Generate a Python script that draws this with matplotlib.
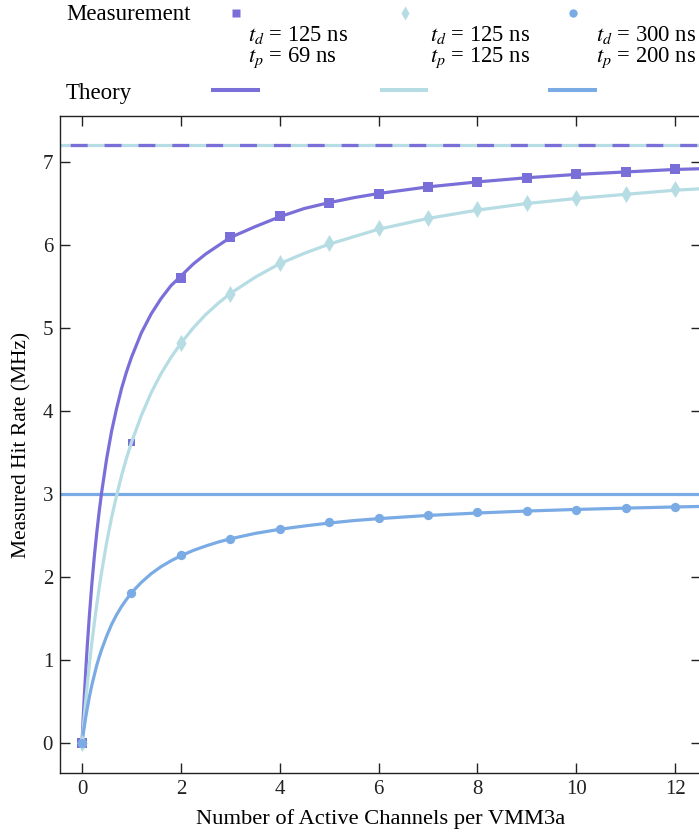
import matplotlib
matplotlib.use("Agg")
import matplotlib.pyplot as plt
from matplotlib.lines import Line2D

plt.rcParams['font.family'] = ['Liberation Serif', 'DejaVu Serif']
plt.rcParams['mathtext.fontset'] = 'stix'

# ---- data ----
C_PURPLE = '#7a6fd8'
C_LIGHT = '#b6dce4'
C_BLUE = '#7aabe4'

meas_n_a = [0, 1, 2, 3, 4, 5, 6, 7, 8, 9, 10, 11, 12]
meas_a = [0, 3.62, 5.60, 6.10, 6.35, 6.51, 6.62, 6.70, 6.76, 6.81, 6.85, 6.88, 6.91]
meas_n_b = [0, 2, 3, 4, 5, 6, 7, 8, 9, 10, 11, 12]
meas_b = [0, 4.82, 5.41, 5.78, 6.02, 6.20, 6.33, 6.43, 6.50, 6.57, 6.62, 6.67]
meas_n_c = [0, 1, 2, 3, 4, 5, 6, 7, 8, 9, 10, 11, 12]
meas_c = [0, 1.81, 2.26, 2.46, 2.58, 2.66, 2.71, 2.75, 2.78, 2.80, 2.81, 2.83, 2.84]

theo_n = [0, 0.025, 0.05, 0.075, 0.1, 0.15, 0.2, 0.25, 0.3, 0.35, 0.4, 0.5, 0.6, 0.7,
          0.8, 0.9, 1.0, 1.2, 1.4, 1.6, 1.8, 2.0, 2.25, 2.5, 2.75, 3.0, 3.5, 4.0, 4.5,
          5.0, 5.5, 6.0, 7.0, 8.0, 9.0, 10.0, 11.0, 12.0, 12.6]
theo_a = [0, 0.31, 0.60, 0.86, 1.11, 1.54, 1.92, 2.25, 2.54, 2.80, 3.03, 3.43, 3.76, 4.03,
          4.27, 4.47, 4.645, 4.94, 5.17, 5.355, 5.51, 5.625, 5.77, 5.89, 5.99, 6.09, 6.22, 6.34, 6.44,
          6.51, 6.57, 6.62, 6.70, 6.76, 6.81, 6.85, 6.88, 6.91, 6.92]
theo_b = [0, 0.18, 0.35, 0.51, 0.66, 0.95, 1.21, 1.45, 1.67, 1.88, 2.07, 2.42, 2.72, 2.98,
          3.22, 3.43, 3.62, 3.945, 4.22, 4.45, 4.645, 4.815, 5.0, 5.16, 5.295, 5.415, 5.61, 5.775, 5.90,
          6.01, 6.10, 6.19, 6.32, 6.42, 6.50, 6.56, 6.61, 6.66, 6.68]
theo_c = [0, 0.11, 0.21, 0.31, 0.395, 0.56, 0.70, 0.82, 0.94, 1.04, 1.13, 1.29, 1.43, 1.545,
          1.645, 1.73, 1.81, 1.935, 2.04, 2.125, 2.195, 2.256, 2.32, 2.373, 2.42, 2.46, 2.525, 2.575, 2.615,
          2.65, 2.68, 2.703, 2.742, 2.771, 2.795, 2.814, 2.83, 2.844, 2.851]

limit_ab = 7.2
limit_c = 3.0

legend_labels = [(r'$t_d$ = 125 ns', r'$t_p$ = 69 ns'),
                 (r'$t_d$ = 125 ns', r'$t_p$ = 125 ns'),
                 (r'$t_d$ = 300 ns', r'$t_p$ = 200 ns')]

# ---- figure ----
W, H = 699, 835
fig = plt.figure(figsize=(W / 100, H / 100), dpi=100)
L, R, T, B = 60, 701, 116, 773
ax = fig.add_axes([L / W, (H - B) / H, (R - L) / W, (B - T) / H])
ax.set_xlim(-0.445, 12.525)
ax.set_ylim(-0.361, 7.554)

lw = 2.3
ax.axhline(limit_ab, color=C_LIGHT, lw=lw, zorder=2)
ax.axhline(limit_ab, color=C_PURPLE, lw=lw, ls=(7.4, (5.3, 5.3)), zorder=2.1)
ax.axhline(limit_c, color=C_BLUE, lw=lw, zorder=2)

sizes_a = [45] * len(meas_n_a)
sizes_a[1] = 30
ax.scatter(meas_n_a, meas_a, marker='s', s=sizes_a, color=C_PURPLE, zorder=1.5, linewidths=0)
ax.plot(theo_n, theo_a, color=C_PURPLE, lw=lw, zorder=2.2)
ax.plot(theo_n, theo_b, color=C_LIGHT, lw=lw, zorder=2.3)
ax.plot(theo_n, theo_c, color=C_BLUE, lw=lw, zorder=2.4)
ax.scatter(meas_n_a[2:], meas_a[2:], marker='s', s=45, color=C_PURPLE, zorder=3, linewidths=0)
ax.scatter(meas_n_b, meas_b, marker='d', s=75, color=C_LIGHT, zorder=3.1, linewidths=0)
ax.scatter(meas_n_c, meas_c, marker='o', s=45, color=C_BLUE, zorder=3.2, linewidths=0)

ax.set_xticks([0, 2, 4, 6, 8, 10, 12])
ax.set_yticks([0, 1, 2, 3, 4, 5, 6, 7])
ax.tick_params(direction='in', length=7.5, width=1.0, top=True, right=True,
               labelsize=15, colors='#222222', pad=5)
for s in ax.spines.values():
    s.set_linewidth(1.0)
    s.set_color('#222222')
ax.set_xlabel('Number of Active Channels per VMM3a', fontsize=16.2, labelpad=7)
ax.set_ylabel('Measured Hit Rate (MHz)', fontsize=15.5, labelpad=8)

# ---- legend drawn in figure coords ----
def fx(px):
    return px / W

def fy(py):
    return 1 - py / H

fig.text(fx(66), fy(14), 'Measurement', fontsize=16.5, va='center', ha='left')
fig.text(fx(66), fy(93), 'Theory', fontsize=16.5, va='center', ha='left')
colors = [C_PURPLE, C_LIGHT, C_BLUE]
markers = [('s', 6.0), ('d', 7.5), ('o', 6.0)]
mx = [236, 405, 573]
tx = [248, 430, 596]
lx = [(211, 260), (380, 428), (548, 597)]
for i in range(3):
    fig.add_artist(Line2D([fx(mx[i])], [fy(13)], marker=markers[i][0], ms=markers[i][1],
                          color=colors[i], mec='none', ls='none', transform=fig.transFigure))
    fig.text(fx(tx[i]), fy(35), legend_labels[i][0], fontsize=16.3, va='center', ha='left')
    fig.text(fx(tx[i]), fy(58), legend_labels[i][1], fontsize=16.3, va='center', ha='left')
    fig.add_artist(Line2D([fx(lx[i][0]), fx(lx[i][1])], [fy(90), fy(90)], color=colors[i],
                          lw=lw + 0.6, transform=fig.transFigure, solid_capstyle='butt'))

fig.savefig('out.png', dpi=100)
